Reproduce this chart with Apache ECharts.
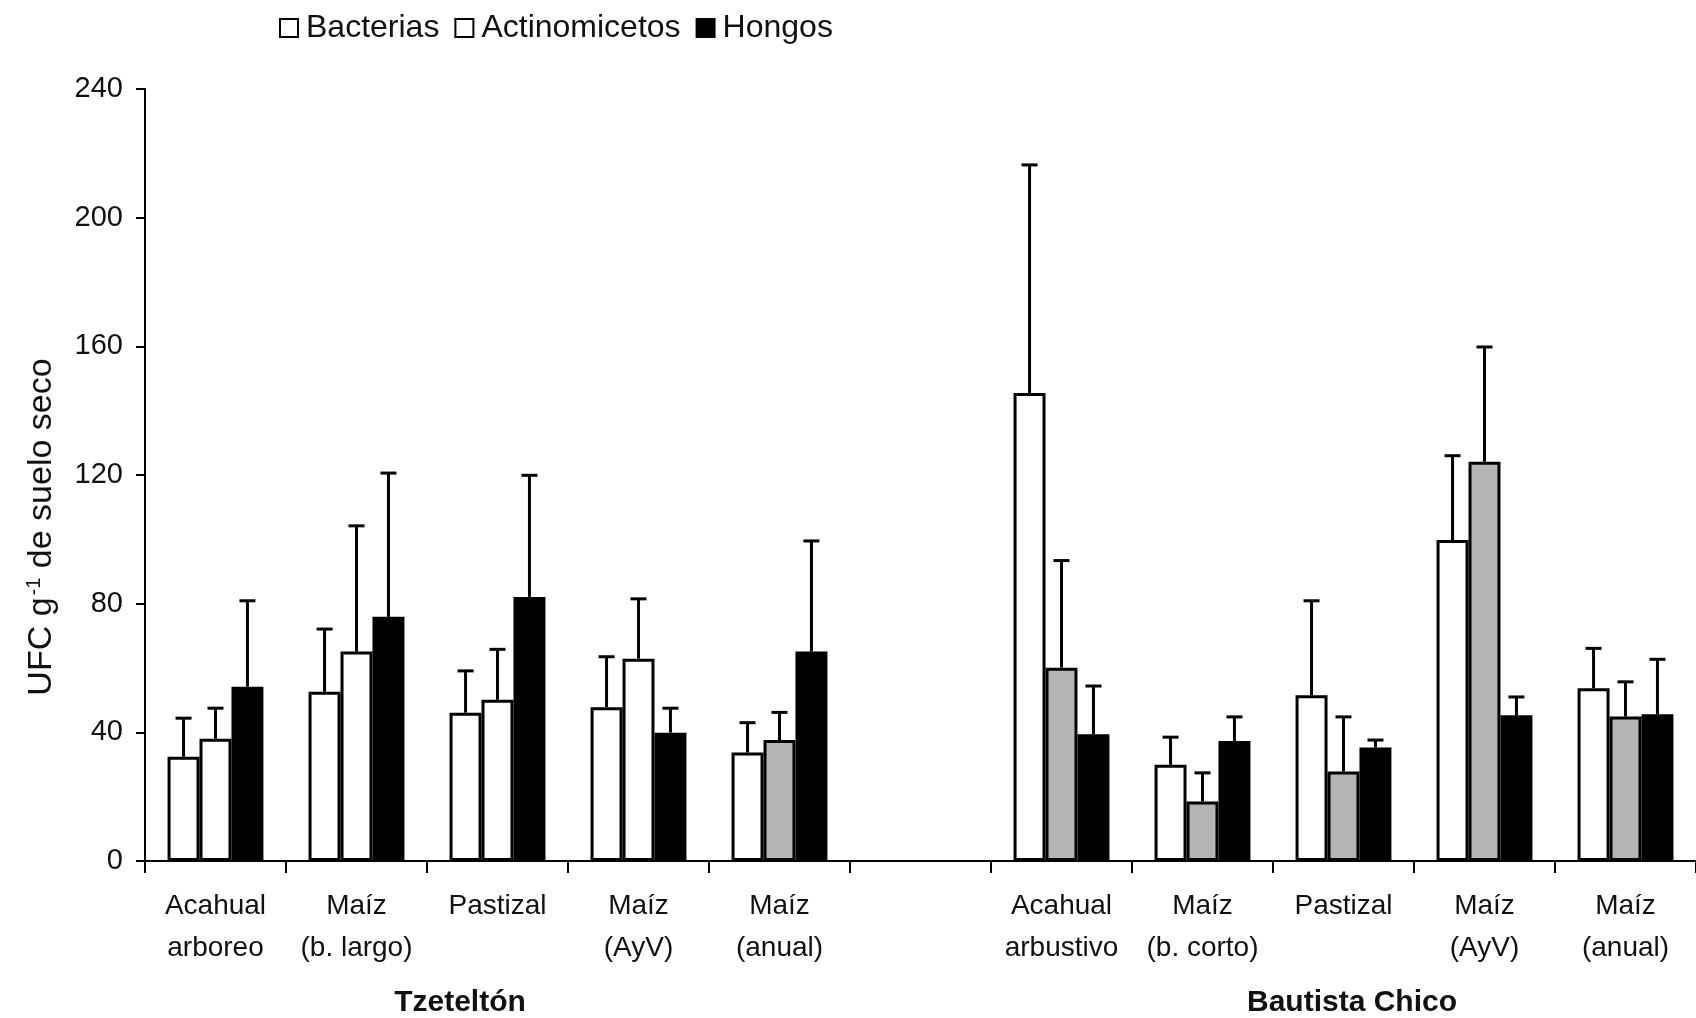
<!DOCTYPE html>
<html><head><meta charset="utf-8">
<script src="https://cdn.jsdelivr.net/npm/echarts@6/dist/echarts.min.js"></script>
<style>html,body{margin:0;padding:0;background:#fff}#c{width:1696px;height:1018px}</style>
</head><body><div id="c"></div>
<script>
const categories = ['Acahual\narboreo','Maíz\n(b. largo)','Pastizal','Maíz\n(AyV)','Maíz\n(anual)','','Acahual\narbustivo','Maíz\n(b. corto)','Pastizal','Maíz\n(AyV)','Maíz\n(anual)'];
const bacterias     = [32.4, 52.6, 46.1, 47.8, 33.7, null, 145.5, 29.9, 51.5, 99.8, 53.7];
const bacteriasErr  = [12.0, 19.5, 13.0, 15.7,  9.3, null,  70.9,  8.6, 29.4, 26.2, 12.4];
const actinomicetos    = [38.0, 65.1, 50.1, 62.9, 37.6, null, 60.1, 18.5, 27.8, 124.1, 44.9];
const actinomicetosErr = [ 9.5, 39.1, 15.7, 18.6,  8.6, null, 33.3,  8.9, 17.0,  35.7, 10.8];
const hongos    = [54.2, 75.9, 82.1, 39.9, 65.1, null, 39.4, 37.3, 35.3, 45.3, 45.6];
const hongosErr = [26.7, 44.7, 37.8,  7.6, 34.4, null, 15.0,  7.5,  2.3,  5.7, 17.1];
const actinoStippled = [false,false,false,false,true,false,true,true,true,true,true];
const yTicks = [0, 40, 80, 120, 160, 200, 240];
const groupLabels = ['Tzeteltón', 'Bautista Chico'];

const FONT = "'Liberation Sans', Arial, sans-serif";
const GAP = 0.32;
function errSeries(name, vals, errs, idx) {
  return {
    type: 'custom', name: name + ' err', z: 5, silent: true,
    data: vals.map((v, i) => v == null ? null : [i, v, errs[i]]).filter(d => d),
    renderItem: function (params, api) {
      const ci = api.value(0), v = api.value(1), e = api.value(2);
      const catW = api.size([1, 0])[0];
      const bw = catW * (1 - GAP) / 3;
      const off = (idx - 1) * bw;
      const p0 = api.coord([ci, v]), p1 = api.coord([ci, v + e]);
      const x = p0[0] + off;
      return { type: 'group', children: [
        { type: 'line', shape: { x1: x, y1: p0[1], x2: x, y2: p1[1] }, style: { stroke: '#000', lineWidth: 3 } },
        { type: 'line', shape: { x1: x - 8, y1: p1[1], x2: x + 8, y2: p1[1] }, style: { stroke: '#000', lineWidth: 3 } }
      ]};
    }
  };
}
const chart = echarts.init(document.getElementById('c'));
chart.setOption({
  animation: false,
  backgroundColor: '#fff',
  textStyle: { fontFamily: FONT, color: '#111' },
  legend: {
    left: 274, top: 7, itemWidth: 18, itemHeight: 18, itemGap: 15, icon: 'rect',
    data: ['Bacterias', 'Actinomicetos', 'Hongos'],
    textStyle: { fontSize: 32, fontFamily: FONT, color: '#111', padding: [0, 0, 0, 3] }
  },
  grid: { left: 145, top: 89, width: 1554, height: 772 },
  xAxis: {
    type: 'category', data: categories,
    axisLine: { lineStyle: { color: '#000', width: 2 } },
    axisTick: { show: true, interval: 0, length: 12, lineStyle: { color: '#000', width: 2 } },
    axisLabel: { interval: 0, fontSize: 28, lineHeight: 42, margin: 24, color: '#111', fontFamily: FONT }
  },
  yAxis: {
    type: 'value', min: 0, max: 240, interval: 40,
    splitLine: { show: false },
    axisLine: { show: true, lineStyle: { color: '#000', width: 2 } },
    axisTick: { show: true, length: 9, lineStyle: { color: '#000', width: 2 } },
    axisLabel: { fontSize: 29, margin: 22, color: '#111', fontFamily: FONT,
      formatter: v => yTicks.includes(v) ? String(v) : '' }
  },
  series: [
    { type: 'bar', name: 'Bacterias', data: bacterias, barGap: '0%', barCategoryGap: (GAP * 100) + '%',
      itemStyle: { color: '#fff', borderColor: '#000', borderWidth: 3 } },
    { type: 'bar', name: 'Actinomicetos',
      data: actinomicetos.map((v, i) => ({ value: v, itemStyle: { color: actinoStippled[i] ? '#b4b4b4' : '#fff' } })),
      itemStyle: { color: '#fff', borderColor: '#000', borderWidth: 3 } },
    { type: 'bar', name: 'Hongos', data: hongos,
      itemStyle: { color: '#000', borderColor: '#000', borderWidth: 3 } },
    errSeries('Bacterias', bacterias, bacteriasErr, 0),
    errSeries('Actinomicetos', actinomicetos, actinomicetosErr, 1),
    errSeries('Hongos', hongos, hongosErr, 2)
  ],
  graphic: [
    { type: 'text', x: 42, y: 527, rotation: Math.PI / 2,
      style: { text: '{a|UFC g}{s|-1}{a| de suelo seco}', align: 'center', verticalAlign: 'middle',
        rich: { a: { fontSize: 34, fontFamily: FONT, fill: '#111', lineHeight: 40 },
                s: { fontSize: 20, fontFamily: FONT, fill: '#111', lineHeight: 40, padding: [0, 0, 16, 2] } } } },
    { type: 'text', x: 460, y: 1003, style: { text: groupLabels[0], fontSize: 30, fontWeight: 'bold', fontFamily: FONT, fill: '#111', align: 'center', verticalAlign: 'middle' } },
    { type: 'text', x: 1352, y: 1003, style: { text: groupLabels[1], fontSize: 30, fontWeight: 'bold', fontFamily: FONT, fill: '#111', align: 'center', verticalAlign: 'middle' } }
  ]
});
</script></body></html>
